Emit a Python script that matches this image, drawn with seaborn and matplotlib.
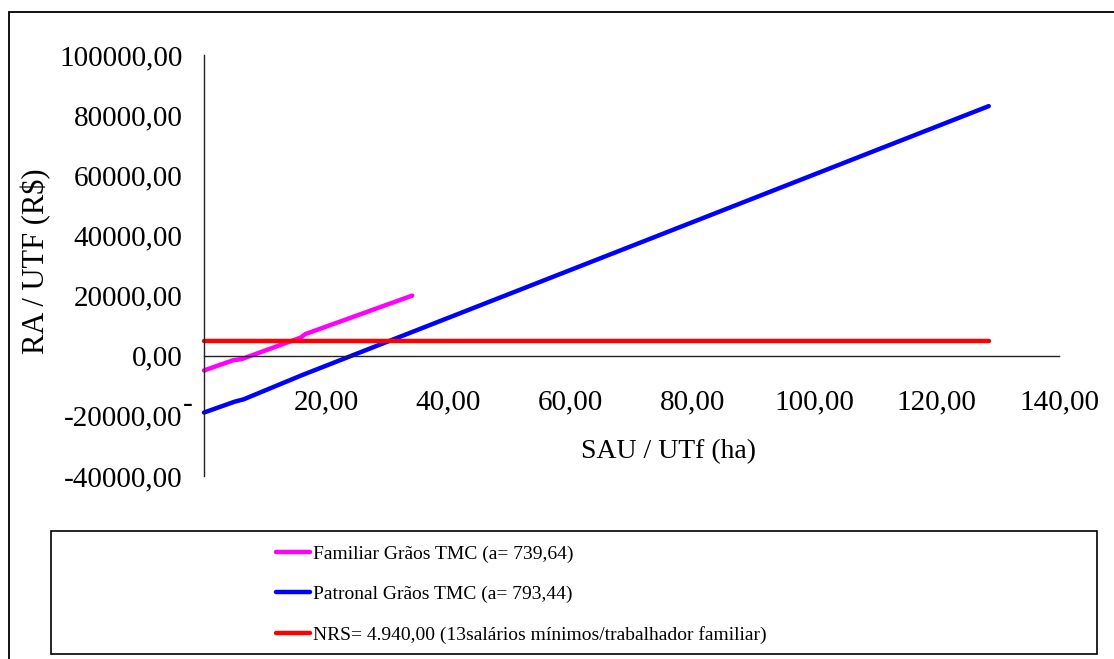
import matplotlib
matplotlib.use("Agg")
import matplotlib.pyplot as plt
import matplotlib.transforms as mtransforms
from matplotlib.patches import Rectangle
from matplotlib.ticker import FuncFormatter
import pandas as pd
import seaborn as sns

# Series: income per family work unit (RA/UTF) against useful area per worker (SAU/UTf)
familiar_x = [0.0, 4.8, 6.2, 15.8, 16.6, 34.1]
familiar_y = [-4900, -1500, -1100, 6000, 7200, 20000]

patronal_x = [0.0, 5.0, 6.5, 16.0, 128.5]
patronal_y = [-18900, -15300, -14500, -6500, 83000]

nrs_x = [0.0, 128.5]
nrs_y = [4940, 4940]

labels = [
    "Familiar Grãos TMC (a= 739,64)",
    "Patronal Grãos TMC (a= 793,44)",
    "NRS= 4.940,00 (13salários mínimos/trabalhador familiar)",
]
colors = ["#ff00ff", "#0000ff", "#ff0000"]

x_ticks = [0, 20, 40, 60, 80, 100, 120, 140]
y_ticks = [-40000, -20000, 0, 20000, 40000, 60000, 80000, 100000]

sns.set_style("white")
plt.rcParams["font.family"] = ["Liberation Serif", "DejaVu Serif"]
plt.rcParams["text.color"] = "black"
plt.rcParams["axes.labelcolor"] = "black"

W, H = 1114, 659
fig = plt.figure(figsize=(W / 100, H / 100), dpi=100)
ax = fig.add_axes([204 / W, 1 - 476 / H, 855 / W, 421 / H])

series = [(familiar_x, familiar_y), (patronal_x, patronal_y), (nrs_x, nrs_y)]
for (xs, ys), lab, col in zip(series, labels, colors):
    df = pd.DataFrame({"x": xs, "y": ys})
    sns.lineplot(data=df, x="x", y="y", color=col, linewidth=3.2, sort=False,
                 estimator=None, label=lab, ax=ax, clip_on=False)

ax.set_xlim(0, 140)
ax.set_ylim(-40000, 100000)
ax.set_xticks(x_ticks)
ax.set_yticks(y_ticks)


def fmt_num(v, pos=None):
    return f"{v:.2f}".replace(".", ",")


ax.yaxis.set_major_formatter(FuncFormatter(fmt_num))
ax.xaxis.set_major_formatter(FuncFormatter(lambda v, p: "-" if v == 0 else fmt_num(v)))

for side in ["top", "right"]:
    ax.spines[side].set_visible(False)
ax.spines["bottom"].set_position(("data", 0))
for side in ["left", "bottom"]:
    ax.spines[side].set_color("#222222")
    ax.spines[side].set_linewidth(1.0)

ax.tick_params(axis="both", which="major", direction="out", length=6.5, width=1.0,
               color="#222222", labelsize=21, labelcolor="black")
ax.tick_params(axis="x", pad=18)
ax.tick_params(axis="y", pad=9)

# shift the zero label of the x axis to the left of the vertical axis
fig.canvas.draw()
for lbl in ax.get_xticklabels():
    if lbl.get_text() == "-":
        lbl.set_transform(lbl.get_transform() + mtransforms.ScaledTranslation(-16 / 100, -2 / 100, fig.dpi_scale_trans))

ax.set_xlabel("SAU / UTf (ha)", fontsize=20)
ax.xaxis.set_label_coords(0.543, 0.088)
ax.set_ylabel("RA / UTF (R$)", fontsize=22)
ax.yaxis.set_label_coords(-0.179, 0.51)

# chart area border
fig.patches.append(Rectangle((8.5 / W, -0.05), 1.2, 1 - 11.5 / H + 0.05, transform=fig.transFigure,
                             fill=False, edgecolor="black", linewidth=1.3, zorder=-2))

# legend box
fig.patches.append(Rectangle((51 / W, 1 - 654 / H), (1097 - 51) / W, (654 - 531) / H,
                             transform=fig.transFigure, fill=True, facecolor="white",
                             edgecolor="black", linewidth=1.2, zorder=-1))

leg = ax.legend(loc="upper left", bbox_to_anchor=(276 / W, 1 - 545 / H),
                bbox_transform=fig.transFigure, frameon=False, fontsize=14,
                handlelength=1.75, handletextpad=0.15, labelspacing=1.17, borderpad=0.0,
                borderaxespad=0.0)
for line in leg.get_lines():
    line.set_linewidth(3.2)

fig.savefig("out.png", dpi=100)
